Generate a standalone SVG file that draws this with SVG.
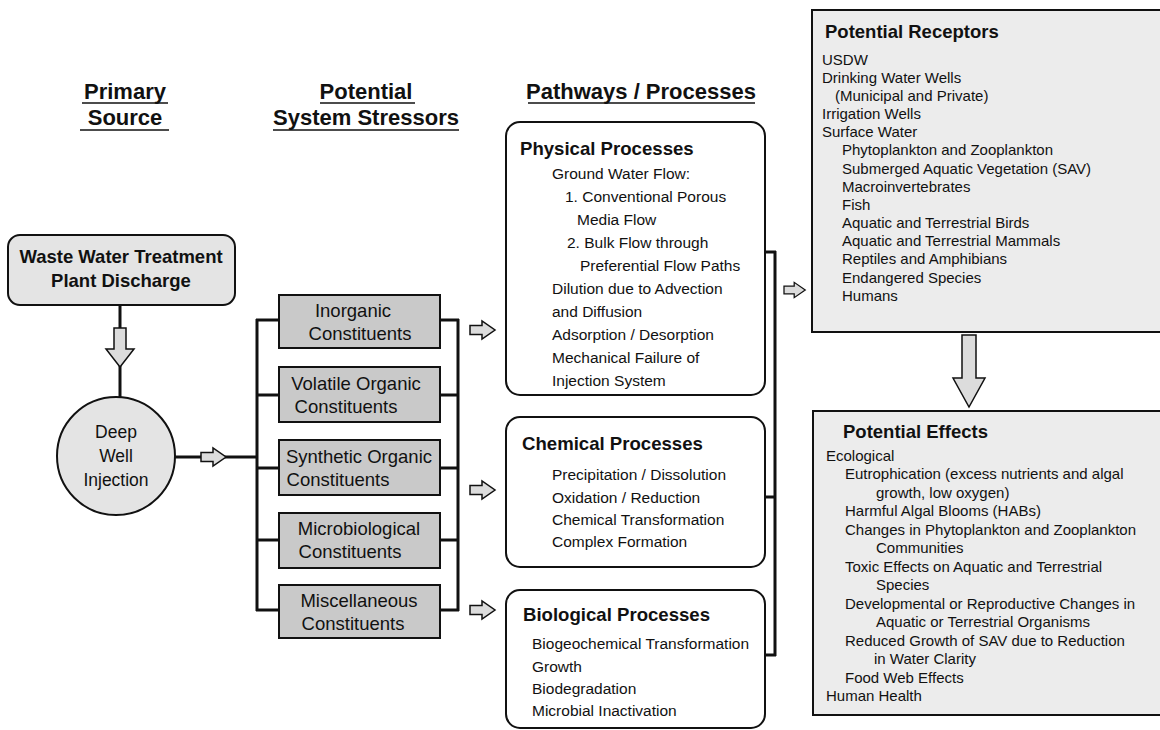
<svg xmlns="http://www.w3.org/2000/svg" width="1160" height="730" viewBox="0 0 1160 730">
<style>
.hdr{font-family:"Liberation Sans",Arial,sans-serif;font-weight:bold;font-size:22px;fill:#111;text-anchor:middle}
.ul{stroke:#111;stroke-width:1.6}
.bt{font-family:"Liberation Sans",Arial,sans-serif;font-weight:bold;fill:#111}
.tx{font-family:"Liberation Sans",Arial,sans-serif;fill:#111}
.mid{text-anchor:middle}
.conn{stroke:#111;stroke-width:3;fill:none}
.harrow{fill:#dcdcdc;stroke:#111;stroke-width:1.5;stroke-linejoin:miter}
.pbox{fill:#fff;stroke:#111;stroke-width:2}
.sbox{fill:#c9c9c9;stroke:#111;stroke-width:2}
.gbox{fill:#e4e4e4;stroke:#111;stroke-width:2}
.lbox{fill:#ececec;stroke:#111;stroke-width:2}
</style>
<defs>
<path id="ar" d="M0,-4.5 L12,-4.5 L12,-9 L25,0 L12,9 L12,4.5 L0,4.5 Z"/>
</defs>

<g id="headers">
<text class="hdr" x="125" y="99">Primary</text>
<text class="hdr" x="125" y="125">Source</text>
<line class="ul" x1="82" y1="103" x2="168" y2="103"/>
<line class="ul" x1="80" y1="130" x2="169" y2="130"/>
<text class="hdr" x="366" y="99">Potential</text>
<text class="hdr" x="366" y="125">System Stressors</text>
<line class="ul" x1="320" y1="103" x2="415" y2="103"/>
<line class="ul" x1="273" y1="130" x2="459" y2="130"/>
<text class="hdr" x="641" y="99">Pathways / Processes</text>
<line class="ul" x1="528" y1="103" x2="755" y2="103"/>
</g>

<g id="connectors">
<line class="conn" x1="120" y1="305" x2="120" y2="397"/>
<line class="conn" x1="175" y1="457" x2="257" y2="457"/>
<line class="conn" x1="257" y1="319" x2="257" y2="611"/>
<line class="conn" x1="256" y1="320" x2="279" y2="320"/>
<line class="conn" x1="256" y1="395" x2="279" y2="395"/>
<line class="conn" x1="256" y1="468" x2="279" y2="468"/>
<line class="conn" x1="256" y1="540" x2="279" y2="540"/>
<line class="conn" x1="256" y1="610" x2="279" y2="610"/>
<line class="conn" x1="458" y1="319" x2="458" y2="611"/>
<line class="conn" x1="440" y1="320" x2="459" y2="320"/>
<line class="conn" x1="440" y1="395" x2="459" y2="395"/>
<line class="conn" x1="440" y1="468" x2="459" y2="468"/>
<line class="conn" x1="440" y1="540" x2="459" y2="540"/>
<line class="conn" x1="440" y1="610" x2="459" y2="610"/>
<line class="conn" x1="775" y1="251" x2="775" y2="656"/>
<line class="conn" x1="765" y1="252" x2="776" y2="252"/>
<line class="conn" x1="765" y1="497" x2="776" y2="497"/>
<line class="conn" x1="765" y1="655" x2="776" y2="655"/>
<path class="harrow" d="M114,328 L126,328 L126,349 L134,349 L120,367 L106,349 L114,349 Z"/>
<use href="#ar" class="harrow" x="201" y="457"/>
<use href="#ar" class="harrow" x="470" y="330"/>
<use href="#ar" class="harrow" x="470" y="490"/>
<use href="#ar" class="harrow" x="470" y="610"/>
<use href="#ar" class="harrow" x="784" y="290" transform="translate(784,290) scale(0.85) translate(-784,-290)"/>
<path class="harrow" d="M962,335 L976,335 L976,378 L985,378 L969,407 L953,378 L962,378 Z"/>
</g>

<g id="wwtp">
<rect class="gbox" x="8" y="235" width="227" height="70" rx="12"/>
<text class="bt mid" x="121" y="263" font-size="18.5">Waste Water Treatment</text>
<text class="bt mid" x="121" y="287" font-size="18.5">Plant Discharge</text>
</g>

<g id="injection">
<circle class="gbox" cx="116" cy="456" r="59"/>
<text class="tx mid" x="116" y="438" font-size="17.5">Deep</text>
<text class="tx mid" x="116" y="462" font-size="17.5">Well</text>
<text class="tx mid" x="116" y="486" font-size="17.5">Injection</text>
</g>

<g id="inorganic">
<rect class="sbox" x="279" y="295" width="161" height="53"/>
<text class="tx mid" x="353" y="317" font-size="18.5">Inorganic</text>
<text class="tx mid" x="360" y="340" font-size="18.5">Constituents</text>
</g>
<g id="volatile">
<rect class="sbox" x="279" y="367" width="161" height="55"/>
<text class="tx mid" x="356" y="390" font-size="18.5">Volatile Organic</text>
<text class="tx mid" x="346" y="413" font-size="18.5">Constituents</text>
</g>
<g id="synthetic">
<rect class="sbox" x="279" y="440" width="161" height="55"/>
<text class="tx mid" x="359" y="463" font-size="18.5">Synthetic Organic</text>
<text class="tx mid" x="338" y="486" font-size="18.5">Constituents</text>
</g>
<g id="microbiological">
<rect class="sbox" x="279" y="513" width="161" height="55"/>
<text class="tx mid" x="359" y="535" font-size="18.5">Microbiological</text>
<text class="tx mid" x="350" y="558" font-size="18.5">Constituents</text>
</g>
<g id="miscellaneous">
<rect class="sbox" x="279" y="585" width="161" height="53"/>
<text class="tx mid" x="359" y="607" font-size="18.5">Miscellaneous</text>
<text class="tx mid" x="353" y="630" font-size="18.5">Constituents</text>
</g>

<g id="physical">
<rect class="pbox" x="506" y="122" width="259" height="273" rx="14"/>
<text class="bt" x="520" y="155" font-size="18.6">Physical Processes</text>
<g class="tx" font-size="15.5">
<text x="552" y="179">Ground Water Flow:</text>
<text x="565" y="202">1. Conventional Porous</text>
<text x="577" y="225">Media Flow</text>
<text x="567" y="248">2. Bulk Flow through</text>
<text x="580" y="271">Preferential Flow Paths</text>
<text x="552" y="294">Dilution due to Advection</text>
<text x="552" y="317">and Diffusion</text>
<text x="552" y="340">Adsorption / Desorption</text>
<text x="552" y="363">Mechanical Failure of</text>
<text x="552" y="386">Injection System</text>
</g>
</g>

<g id="chemical">
<rect class="pbox" x="506" y="417" width="259" height="150" rx="14"/>
<text class="bt" x="522" y="450" font-size="18.6">Chemical Processes</text>
<g class="tx" font-size="15.5">
<text x="552" y="480">Precipitation / Dissolution</text>
<text x="552" y="503">Oxidation / Reduction</text>
<text x="552" y="525">Chemical Transformation</text>
<text x="552" y="547">Complex Formation</text>
</g>
</g>

<g id="biological">
<rect class="pbox" x="506" y="590" width="259" height="138" rx="14"/>
<text class="bt" x="523" y="621" font-size="18.6">Biological Processes</text>
<g class="tx" font-size="15.5">
<text x="532" y="649">Biogeochemical Transformation</text>
<text x="532" y="672">Growth</text>
<text x="532" y="694">Biodegradation</text>
<text x="532" y="716">Microbial Inactivation</text>
</g>
</g>

<g id="receptors">
<rect class="lbox" x="812" y="10" width="360" height="322"/>
<text class="bt" x="825" y="38" font-size="18.5">Potential Receptors</text>
<g class="tx" font-size="15">
<text x="822" y="65">USDW</text>
<text x="822" y="83">Drinking Water Wells</text>
<text x="835" y="101">(Municipal and Private)</text>
<text x="822" y="119">Irrigation Wells</text>
<text x="822" y="137">Surface Water</text>
<text x="842" y="155">Phytoplankton and Zooplankton</text>
<text x="842" y="174">Submerged Aquatic Vegetation (SAV)</text>
<text x="842" y="192">Macroinvertebrates</text>
<text x="842" y="210">Fish</text>
<text x="842" y="228">Aquatic and Terrestrial Birds</text>
<text x="842" y="246">Aquatic and Terrestrial Mammals</text>
<text x="842" y="264">Reptiles and Amphibians</text>
<text x="842" y="283">Endangered Species</text>
<text x="842" y="301">Humans</text>
</g>
</g>

<g id="effects">
<rect class="lbox" x="813" y="411" width="360" height="304"/>
<text class="bt" x="843" y="438" font-size="18.5">Potential Effects</text>
<g class="tx" font-size="15">
<text x="826" y="461">Ecological</text>
<text x="845" y="479">Eutrophication (excess nutrients and algal</text>
<text x="876" y="498">growth, low oxygen)</text>
<text x="845" y="516">Harmful Algal Blooms (HABs)</text>
<text x="845" y="535">Changes in Phytoplankton and Zooplankton</text>
<text x="876" y="553">Communities</text>
<text x="845" y="572">Toxic Effects on Aquatic and Terrestrial</text>
<text x="876" y="590">Species</text>
<text x="845" y="609">Developmental or Reproductive Changes in</text>
<text x="876" y="627">Aquatic or Terrestrial Organisms</text>
<text x="845" y="646">Reduced Growth of SAV due to Reduction</text>
<text x="874" y="664">in Water Clarity</text>
<text x="845" y="683">Food Web Effects</text>
<text x="826" y="701">Human Health</text>
</g>
</g>
</svg>
